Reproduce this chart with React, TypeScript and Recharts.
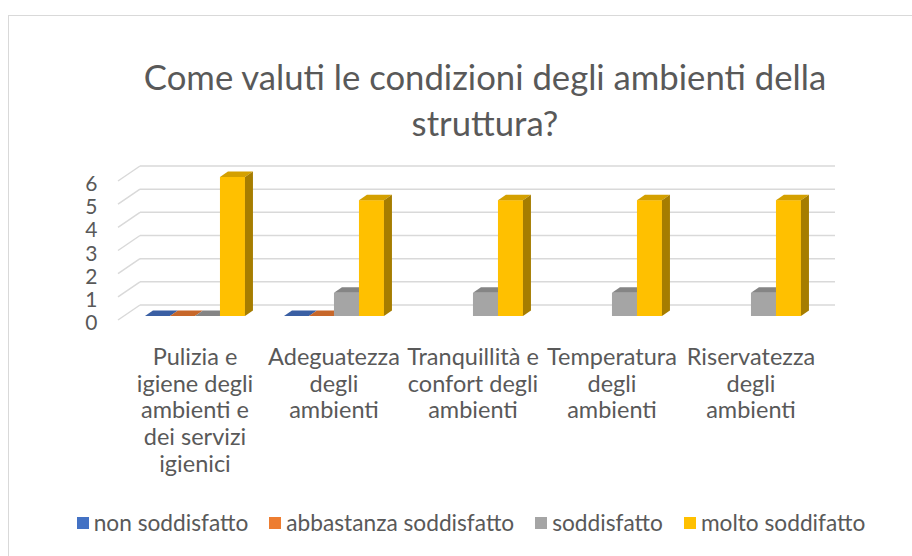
import React from 'react';
import { BarChart, Bar, XAxis, YAxis, CartesianGrid, Legend } from 'recharts';

const categories = [
  'Pulizia e igiene degli ambienti e dei servizi igienici',
  'Adeguatezza degli ambienti',
  'Tranquillità e confort degli ambienti',
  'Temperatura degli ambienti',
  'Riservatezza degli ambienti',
];
const tickLines = [
  ['Pulizia e', 'igiene degli', 'ambienti e', 'dei servizi', 'igienici'],
  ['Adeguatezza', 'degli', 'ambienti'],
  ['Tranquillità e', 'confort degli', 'ambienti'],
  ['Temperatura', 'degli', 'ambienti'],
  ['Riservatezza', 'degli', 'ambienti'],
];
const nonSoddisfatto: (number | null)[] = [0, 0, null, null, null];
const abbastanzaSoddisfatto: (number | null)[] = [0, 0, null, null, null];
const soddisfatto: (number | null)[] = [0, 1, 1, 1, 1];
const moltoSoddisfatto: (number | null)[] = [6, 5, 5, 5, 5];
const yTicks = [0, 1, 2, 3, 4, 5, 6];
const titleLines = ['Come valuti le condizioni degli ambienti della', 'struttura?'];

const series = [
  { key: 'non', name: 'non soddisfatto', values: nonSoddisfatto, front: '#4472C4', top: '#3A5FA3', side: '#2E4D86' },
  { key: 'abb', name: 'abbastanza soddisfatto', values: abbastanzaSoddisfatto, front: '#ED7D31', top: '#C7672A', side: '#A45422' },
  { key: 'sod', name: 'soddisfatto', values: soddisfatto, front: '#A5A5A5', top: '#858585', side: '#6E6E6E' },
  { key: 'molto', name: 'molto soddifatto', values: moltoSoddisfatto, front: '#FFC000', top: '#D4A000', side: '#A67D00' },
];

const data = categories.map((c, i) => {
  const row: Record<string, any> = { category: c, idx: i };
  series.forEach((s) => { row[s.key] = s.values[i]; });
  return row;
});

const FONT = 'Lato, "Noto Sans", sans-serif';
const TEXT = '#595959';
const DX = 8;
const DY = 5.5;

const make3D = (key: string, front: string, top: string, side: string) => (props: any) => {
  const { x, y, width, height, payload } = props;
  if (!payload || payload[key] == null) return <g />;
  const x2 = x + width;
  const yb = y + height;
  return (
    <g>
      {height > 0 && <rect x={x} y={y} width={width} height={height} fill={front} />}
      <polygon points={`${x},${y} ${x + DX},${y - DY} ${x2 + DX},${y - DY} ${x2},${y}`} fill={top} />
      {height > 0 && (
        <polygon points={`${x2},${y} ${x2 + DX},${y - DY} ${x2 + DX},${yb - DY} ${x2},${yb}`} fill={side} />
      )}
    </g>
  );
};

const gridLine = (props: any) => {
  const { x1, x2, y1 } = props;
  const backY = y1 - 11;
  const backX1 = x1 + 14.5;
  const backX2 = x2 + 14.5;
  const frontX = x1 - 7.5;
  const frontY = y1 + 4;
  return (
    <g key={`g-${y1}`}>
      <line x1={backX1} y1={backY} x2={backX2} y2={backY} stroke="#D9D9D9" strokeWidth={1.5} />
      <line x1={frontX} y1={frontY} x2={backX1} y2={backY} stroke="#D9D9D9" strokeWidth={1.5} />
    </g>
  );
};

const YTick = (props: any) => {
  const { x, y, payload } = props;
  return (
    <text x={x} y={y + 14} textAnchor="end" fill={TEXT} fontSize={21} fontFamily={FONT}>
      {payload.value}
    </text>
  );
};

const XTick = (props: any) => {
  const { x, y, payload } = props;
  const lines = tickLines[payload.index] || [payload.value];
  return (
    <g>
      {lines.map((l, i) => (
        <text key={i} x={x} y={y + 49 + i * 26.7} textAnchor="middle" fill={TEXT} fontSize={23.5} fontFamily={FONT}>
          {l}
        </text>
      ))}
    </g>
  );
};

const LegendContent = () => (
  <div style={{ display: 'flex', justifyContent: 'center', alignItems: 'center', fontFamily: FONT, fontSize: 22.7, color: TEXT, whiteSpace: 'nowrap' }}>
    {series.map((s) => (
      <div key={s.key} style={{ display: 'flex', alignItems: 'center', margin: '0 10.5px' }}>
        <span style={{ display: 'inline-block', width: 12, height: 12, background: s.front, marginRight: 5 }} />
        <span>{s.name}</span>
      </div>
    ))}
  </div>
);

export default function App() {
  return (
    <div style={{ position: 'fixed', left: 0, top: 0, width: 912, height: 556, background: '#fff', overflow: 'hidden' }}>
      <div style={{ position: 'absolute', left: 8, top: 15, width: 940, height: 580, borderTop: '1px solid #D9D9D9', borderLeft: '1px solid #D9D9D9' }} />
      <svg style={{ position: 'absolute', left: 0, top: 0 }} width={912} height={160}>
        {titleLines.map((t, i) => (
          <text key={i} x={485} y={90 + i * 46} textAnchor="middle" fill={TEXT} fontSize={34.7} fontFamily={FONT}>
            {t}
          </text>
        ))}
      </svg>
      <div style={{ position: 'absolute', left: 0, top: 0 }}>
        <BarChart
          width={912}
          height={556}
          data={data}
          margin={{ top: 177, right: 91.5, bottom: 210, left: 95.5 }}
          barCategoryGap="14%"
          barGap={0}
        >
          <CartesianGrid horizontal={gridLine} vertical={false} />
          <XAxis dataKey="category" height={30} axisLine={false} tickLine={false} tickSize={0} tickMargin={0} tick={<XTick />} interval={0} />
          <YAxis width={30} domain={[0, 6]} ticks={yTicks} axisLine={false} tickLine={false} tickSize={0} tickMargin={28} tick={<YTick />} />
          <Legend verticalAlign="middle" align="center" layout="horizontal" wrapperStyle={{ position: 'absolute', top: 509, left: 15, width: 912 }} content={<LegendContent />} />
          {series.map((s) => (
            <Bar key={s.key} dataKey={s.key} name={s.name} isAnimationActive={false} shape={make3D(s.key, s.front, s.top, s.side)} />
          ))}
        </BarChart>
      </div>
    </div>
  );
}
